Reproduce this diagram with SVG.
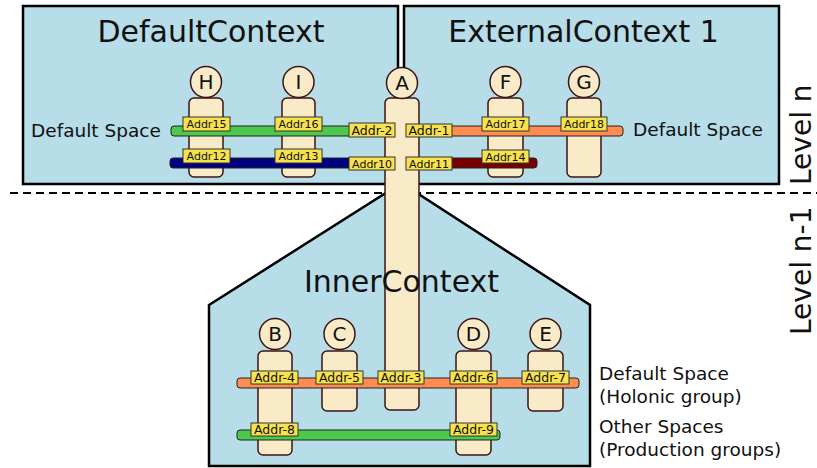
<svg xmlns="http://www.w3.org/2000/svg" width="817" height="468" viewBox="0 0 817 468">
<style>
.ctx{fill:#b6dde8;stroke:#000;stroke-width:2.5}
.tube{fill:#f9ebc8;stroke:#3c1414;stroke-width:1.5}
.head{fill:#f9ebc8;stroke:#3c1414;stroke-width:1.5}
.letter{font-family:"DejaVu Sans",sans-serif;font-size:20px;fill:#111;text-anchor:middle}
.title{font-family:"DejaVu Sans",sans-serif;font-size:30px;fill:#111;text-anchor:middle}
.note{font-family:"DejaVu Sans",sans-serif;font-size:18.5px;fill:#111}
.level{font-family:"DejaVu Sans",sans-serif;font-size:28px;fill:#111}
.bar{stroke:#222;stroke-width:1}
.lab{fill:#f7e24e;stroke:#333;stroke-width:1}
.ls{font-family:"DejaVu Sans",sans-serif;font-size:11px;fill:#111;text-anchor:middle}
.lb{font-family:"DejaVu Sans",sans-serif;font-size:12.5px;fill:#111;text-anchor:middle}
</style>
<rect width="817" height="468" fill="#fff"/>
<g id="DefaultContext"><rect class="ctx" x="23" y="6" width="375" height="178"/></g>
<g id="ExternalContext1"><rect class="ctx" x="404" y="6" width="375" height="178"/></g>
<g id="InnerContext"><polygon class="ctx" points="209,305 401.5,183 590,305 590,466 209,466"/></g>
<line x1="10" y1="193" x2="817" y2="193" stroke="#000" stroke-width="2" stroke-dasharray="8 5"/>
<g id="agent-H"><rect class="tube" x="189" y="98" width="34" height="79" rx="5"/><circle class="head" cx="206" cy="82" r="15.5"/><text class="letter" x="206" y="89">H</text></g>
<g id="agent-I"><rect class="tube" x="282" y="98" width="33" height="79" rx="5"/><circle class="head" cx="298.5" cy="82" r="15.5"/><text class="letter" x="298.5" y="89">I</text></g>
<g id="agent-F"><rect class="tube" x="488" y="98" width="35" height="79" rx="5"/><circle class="head" cx="505.5" cy="82" r="15.5"/><text class="letter" x="505.5" y="89">F</text></g>
<g id="agent-G"><rect class="tube" x="567" y="98" width="34" height="79" rx="5"/><circle class="head" cx="584" cy="82" r="15.5"/><text class="letter" x="584" y="89">G</text></g>
<g id="agent-B"><rect class="tube" x="258" y="351" width="34" height="104" rx="5"/><circle class="head" cx="275" cy="334" r="15.5"/><text class="letter" x="275" y="341">B</text></g>
<g id="agent-C"><rect class="tube" x="322" y="351" width="35" height="60" rx="5"/><circle class="head" cx="339.5" cy="334" r="15.5"/><text class="letter" x="339.5" y="341">C</text></g>
<g id="agent-D"><rect class="tube" x="456" y="351" width="35" height="104" rx="5"/><circle class="head" cx="473.5" cy="334" r="15.5"/><text class="letter" x="473.5" y="341">D</text></g>
<g id="agent-E"><rect class="tube" x="528" y="351" width="35" height="60" rx="5"/><circle class="head" cx="545.5" cy="334" r="15.5"/><text class="letter" x="545.5" y="341">E</text></g>
<g id="agent-A"><rect class="tube" x="385" y="98" width="34" height="312" rx="5"/><circle class="head" cx="402" cy="83" r="15.5"/><text class="letter" x="402" y="90">A</text></g>
<g id="connectors">
<rect class="bar" x="171" y="126" width="216" height="10" rx="3" fill="#4cc84c"/>
<rect class="bar" x="170" y="158" width="217" height="10" rx="3" fill="#000080"/>
<rect class="bar" x="417" y="126" width="206" height="10" rx="3" fill="#ff8c50"/>
<rect class="bar" x="417" y="158" width="120" height="10" rx="3" fill="#7a0000"/>
<rect class="bar" x="237" y="378" width="342" height="10" rx="3" fill="#ff8c50"/>
<rect class="bar" x="237" y="430" width="263" height="10" rx="3" fill="#4cc84c"/>
<rect class="lab" x="183" y="117" width="47" height="14"/><text class="ls" x="206.5" y="128">Addr15</text>
<rect class="lab" x="275" y="117" width="47" height="14"/><text class="ls" x="298.5" y="128">Addr16</text>
<rect class="lab" x="183" y="149" width="47" height="14"/><text class="ls" x="206.5" y="160">Addr12</text>
<rect class="lab" x="275" y="149" width="47" height="14"/><text class="ls" x="298.5" y="160">Addr13</text>
<rect class="lab" x="349" y="123" width="46" height="14"/><text class="lb" x="372" y="134.5">Addr-2</text>
<rect class="lab" x="349" y="157" width="46" height="13"/><text class="ls" x="372" y="168">Addr10</text>
<rect class="lab" x="406" y="124" width="46" height="13"/><text class="lb" x="429" y="135">Addr-1</text>
<rect class="lab" x="406" y="157" width="46" height="13"/><text class="ls" x="429" y="168">Addr11</text>
<rect class="lab" x="482" y="117" width="47" height="14"/><text class="ls" x="505.5" y="128">Addr17</text>
<rect class="lab" x="561" y="117" width="46" height="14"/><text class="ls" x="584" y="128">Addr18</text>
<rect class="lab" x="482" y="150" width="47" height="13"/><text class="ls" x="505.5" y="161">Addr14</text>
<rect class="lab" x="251" y="371" width="47" height="13"/><text class="lb" x="274.5" y="382">Addr-4</text>
<rect class="lab" x="316" y="371" width="47" height="13"/><text class="lb" x="339.5" y="382">Addr-5</text>
<rect class="lab" x="378" y="371" width="46" height="13"/><text class="lb" x="401" y="382">Addr-3</text>
<rect class="lab" x="450" y="371" width="47" height="13"/><text class="lb" x="473.5" y="382">Addr-6</text>
<rect class="lab" x="522" y="371" width="47" height="13"/><text class="lb" x="545.5" y="382">Addr-7</text>
<rect class="lab" x="251" y="423" width="47" height="13"/><text class="lb" x="274.5" y="434">Addr-8</text>
<rect class="lab" x="450" y="423" width="47" height="13"/><text class="lb" x="473.5" y="434">Addr-9</text>
</g>
<g id="titles">
<text class="title" x="211" y="42">DefaultContext</text>
<text class="title" x="583.5" y="42">ExternalContext 1</text>
<text class="title" x="401.5" y="292">InnerContext</text>
</g>
<g id="notes">
<text class="note" x="31" y="137">Default Space</text>
<text class="note" x="633" y="136">Default Space</text>
<text class="note" x="599" y="380">Default Space</text>
<text class="note" x="599" y="403">(Holonic group)</text>
<text class="note" x="599" y="433">Other Spaces</text>
<text class="note" x="599" y="456">(Production groups)</text>
<text class="level" transform="translate(811,185) rotate(-90)">Level n</text>
<text class="level" transform="translate(811,335) rotate(-90)">Level n-1</text>
</g>
</svg>
